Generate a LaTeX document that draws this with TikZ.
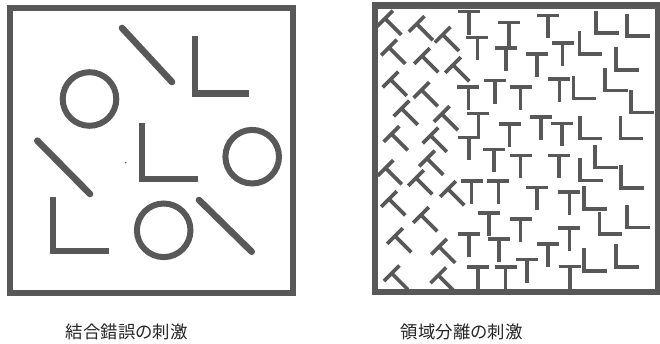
\documentclass[tikz,border=0pt]{standalone}
\usepackage{fontspec}
\newfontfamily\jpfont{Noto Sans CJK JP}
\definecolor{ink}{RGB}{88,88,88}
\begin{document}
\begin{tikzpicture}[x=1pt,y=-1pt,
  stroke/.style={draw=ink,line width=3.6pt},
  frame/.style={draw=ink,line width=6.3pt},
  thick bar/.style={draw=ink,line width=6.6pt,line cap=round},
  thick ell/.style={draw=ink,line width=6.4pt},
  ring/.style={draw=ink,line width=6pt},
  caption/.style={font=\jpfont\fontsize{17.4}{20}\selectfont,text=black!85,inner sep=0pt},
  tee/.pic={\draw[stroke] (-11,0) -- (11,0) (0,0) -- (0,23);},
  ell/.pic={\draw[stroke] (0,-22.5) -- (0,0) -- (22.5,0);}]
\useasboundingbox (0,0) rectangle (660,344);
% ---------- left panel ----------
\draw[frame] (10,8.3) rectangle (293.3,293.3);
\draw[thick bar] (122,28) -- (172,82);
\draw[thick bar] (37.3,140.7) -- (90,194);
\draw[thick bar] (199,200) -- (251.7,251.7);
\draw[thick ell] (195,36) -- (195,93.7) -- (249.3,93.7);
\draw[thick ell] (141.7,123.3) -- (141.7,179) -- (197.7,179);
\draw[thick ell] (52.7,197.3) -- (52.7,251) -- (109.3,251);
\draw[ring] (89.5,99) circle (26.8);
\draw[ring] (252.2,156.7) circle (26.8);
\draw[ring] (163.7,230.3) circle (26.8);
\fill[ink] (125.7,162.7) circle (0.8);
% ---------- right panel ----------
\draw[frame] (375,5.5) rectangle (658,292);
% rotated T's
\foreach \p in {(385,18.5),(416.7,24),(442.7,34.7),(389,47.5),(422,56),(453,65),
  (390.5,79.5),(421.5,90),(401.5,108.5),(441.7,114),(391.5,134),(430.5,135.5),
  (385.5,168),(427,158.5),(416,178),(448,189),(389,199),(421,215),(395,236),
  (439,246.7),(391.7,273.3),(438.3,275.3)}
  \pic[rotate=45] at \p {tee};
% upright T's
\foreach \p in {(469,11.7),(477.3,37.5),(509,22.7),(506,48),(547.7,15.5),(562.5,43.3),
  (536.7,54),(559.3,79.3),(520.5,87.3),(541.2,117.2),(562,123.5),(468.3,87.2),
  (495,80.7),(478.3,113.5),(509.5,124),(469,137.5),(493.8,149.5),(520.5,155.5),
  (559,155.5),(471.5,180.8),(498.3,180.8),(537,187.5),(569.3,192.3),(489,213.3),
  (520.5,219.3),(569.3,228),(468.7,233.8),(498.8,238.8),(548,244.3),(477.8,266.7),
  (505.5,266.7),(527,259.5),(569.7,266.3)}
  \pic at \p {tee};
% L's
\foreach \p in {(596,33.3),(627,36.3),(579.3,54),(616,70),(605,90.5),(631,112.7),
  (573.3,98.5),(579.7,138.5),(620.3,138.5),(580,180.5),(595,167.5),(621,188),
  (584,209),(599.3,234.3),(627,227.5),(584,271),(616,266.7)}
  \pic at \p {ell};
% ---------- captions ----------
\node[caption] (cap1) at (126.7,331.7) {結合錯誤の刺激};
\node[caption] (cap2) at (461.7,331.7) {領域分離の刺激};
\end{tikzpicture}
\end{document}
